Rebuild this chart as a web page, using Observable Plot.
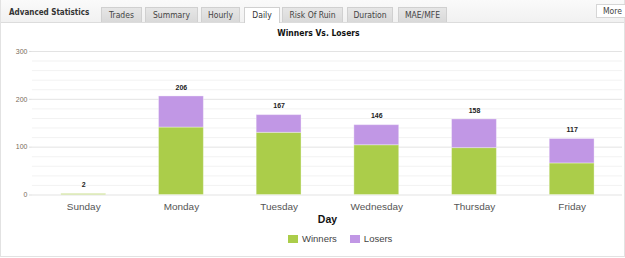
<!DOCTYPE html>
<html>
<head>
<meta charset="utf-8">
<script src="https://cdn.jsdelivr.net/npm/d3@7"></script>
<script src="https://cdn.jsdelivr.net/npm/@observablehq/plot@0.6"></script>
<style>
  html, body { margin: 0; padding: 0; background: #fff; }
  body { width: 625px; height: 258px; overflow: hidden; }
  .panel { position: relative; width: 623px; height: 256px; border: 1px solid #e2e2e2; border-top: none; }
  .tabs { position: absolute; left: 0; top: 0; width: 623px; height: 22px; background: linear-gradient(#fafafa, #f1f1f1); border-bottom: 1px solid #dcdcdc; }
  .tabs .head { position: absolute; left: 8px; top: 8px; font: bold 8px "DejaVu Sans Condensed", "DejaVu Sans", sans-serif; color: #333; }
  .tab { position: absolute; top: 7px; height: 15px; background: linear-gradient(#e6e6e6, #d9d9d9); border: 1px solid #d0d0d0; border-bottom: none; box-sizing: border-box; font: 8.5px "DejaVu Sans Condensed", "DejaVu Sans", sans-serif; color: #444; text-align: center; line-height: 15px; }
  .tab.active { background: #fff; height: 16px; color: #333; }
  .more { position: absolute; top: 4px; left: 595px; width: 32px; height: 14px; background: #fff; border: 1px solid #d6d6d6; box-sizing: border-box; font: 8.5px "DejaVu Sans Condensed", "DejaVu Sans", sans-serif; color: #444; line-height: 13px; padding-left: 6px; }
  .title { position: absolute; top: 28px; left: 0; width: 635px; text-align: center; font: bold 8.5px "DejaVu Sans Condensed", "DejaVu Sans", sans-serif; color: #111; }
  #chart { position: absolute; left: 0; top: 42px; }
  .legend { position: absolute; top: 233px; left: 287px; font: 9.5px "Liberation Sans", Arial, sans-serif; color: #444; display: flex; align-items: center; }
  .legend span.sw { display: inline-block; width: 10px; height: 8px; margin-right: 4px; }
  .legend .item { display: flex; align-items: center; margin-right: 13px; }
</style>
</head>
<body>
<div class="panel">
  <div class="tabs" id="tabs"><div class="head">Advanced Statistics</div></div>
  <div class="title">Winners Vs. Losers</div>
  <div id="chart"></div>
  <div class="legend" id="legend"></div>
</div>
<script>
// Trades per weekday, split into winning and losing trades
const days = ["Sunday", "Monday", "Tuesday", "Wednesday", "Thursday", "Friday"];
const winners = [2, 141, 130, 104, 98, 66];
const losers = [0, 65, 37, 42, 60, 51];
const seriesNames = ["Winners", "Losers"];
const seriesColors = ["#abcd4a", "#c197e5"];
const yTicks = [0, 100, 200, 300];
const yMinor = [20, 40, 60, 80, 120, 140, 160, 180, 220, 240, 260, 280];

// Tab strip
const tabNames = ["Trades", "Summary", "Hourly", "Daily", "Risk Of Ruin", "Duration", "MAE/MFE"];
const tabEdges = [[100, 141], [144, 197], [200, 239], [243, 279], [281, 342], [346, 392], [397, 446]];
const tabsEl = document.getElementById("tabs");
tabNames.forEach((name, i) => {
  const t = document.createElement("div");
  t.className = "tab" + (name === "Daily" ? " active" : "");
  t.style.left = tabEdges[i][0] + "px";
  t.style.width = (tabEdges[i][1] - tabEdges[i][0]) + "px";
  t.textContent = name;
  tabsEl.appendChild(t);
});
const more = document.createElement("div");
more.className = "more";
more.textContent = "More";
tabsEl.appendChild(more);

const rows = [];
days.forEach((d, i) => {
  rows.push({day: d, series: "Winners", value: winners[i]});
  rows.push({day: d, series: "Losers", value: losers[i]});
});
const totals = days.map((d, i) => ({day: d, total: winners[i] + losers[i]}));

const chart = Plot.plot({
  width: 625,
  height: 188,
  marginLeft: 31,
  marginRight: 2,
  marginTop: 9,
  marginBottom: 35,
  style: {fontFamily: "'Liberation Sans', Arial, sans-serif", background: "transparent"},
  x: {domain: days, paddingInner: 0.544, paddingOuter: 0.272, label: null},
  y: {domain: [0, 300], label: null},
  color: {domain: seriesNames, range: seriesColors},
  marks: [
    Plot.ruleY(yMinor, {stroke: "#f2f2f2", strokeWidth: 1}),
    Plot.ruleY(yTicks, {stroke: "#e3e3e3", strokeWidth: 1}),
    Plot.barY(rows, {x: "day", y: "value", fill: "series", order: seriesNames, stroke: "#ffffff", strokeOpacity: 0.35, strokeWidth: 1}),
    Plot.text(totals, {x: "day", y: "total", text: d => String(d.total), dy: -9, fontSize: 7, fontWeight: "bold", fill: "#222"}),
    Plot.axisY(yTicks, {tickSize: 3, tickPadding: 2, fontSize: 7, color: "#7a6a5a", stroke: "#ddd", label: null}),
    Plot.axisX({tickSize: 0, tickPadding: 8, fontSize: 10, color: "#555", label: null}),
    Plot.text(["Day"], {frameAnchor: "bottom", dy: 28, fontSize: 10.5, fontWeight: "bold", fill: "#111"})
  ]
});
document.getElementById("chart").appendChild(chart);

// Legend
const legendEl = document.getElementById("legend");
seriesNames.forEach((name, i) => {
  const item = document.createElement("div");
  item.className = "item";
  const sw = document.createElement("span");
  sw.className = "sw";
  sw.style.background = seriesColors[i];
  item.appendChild(sw);
  item.appendChild(document.createTextNode(name));
  legendEl.appendChild(item);
});
</script>
</body>
</html>
